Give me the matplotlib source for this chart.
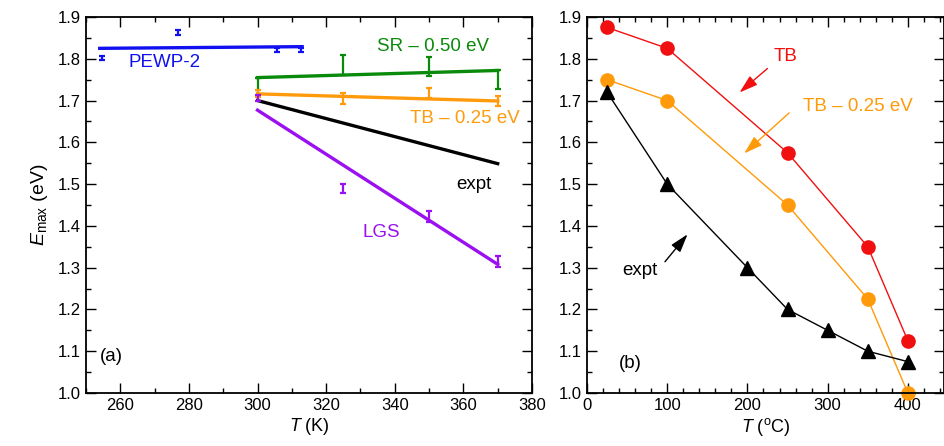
import matplotlib.pyplot as plt
from matplotlib.ticker import MultipleLocator

plt.rcParams['font.family'] = ['Liberation Sans', 'DejaVu Sans']
plt.rcParams['mathtext.fontset'] = 'custom'
plt.rcParams['mathtext.rm'] = 'Liberation Sans'
plt.rcParams['mathtext.it'] = 'Liberation Sans:italic'

# panel (a): fitted lines (T in K)
pewp_line_t = [254, 313]
pewp_line_e = [1.825, 1.829]
sr_line_t = [300, 370]
sr_line_e = [1.755, 1.772]
tb25_line_t = [300, 370]
tb25_line_e = [1.716, 1.699]
expt_line_t = [300, 370]
expt_line_e = [1.700, 1.549]
lgs_line_t = [300, 370]
lgs_line_e = [1.677, 1.308]

# panel (a): error bars (low, high)
pewp_t = [254.7, 276.7, 305.7, 312.7]
pewp_lo = [1.797, 1.858, 1.816, 1.816]
pewp_hi = [1.806, 1.868, 1.826, 1.826]
sr_t = [300, 325, 350, 370]
sr_lo = [1.710, 1.762, 1.758, 1.727]
sr_hi = [1.755, 1.808, 1.805, 1.772]
tb25_t = [300, 325, 350, 370]
tb25_lo = [1.709, 1.691, 1.707, 1.686]
tb25_hi = [1.725, 1.717, 1.729, 1.711]
lgs_t = [300, 325, 350, 370]
lgs_lo = [1.700, 1.479, 1.409, 1.301]
lgs_hi = [1.714, 1.501, 1.435, 1.329]

# panel (b): T in oC
tb_t = [25, 100, 250, 350, 400]
tb_e = [1.875, 1.825, 1.575, 1.35, 1.125]
tb25b_t = [25, 100, 250, 350, 400]
tb25b_e = [1.75, 1.70, 1.45, 1.225, 1.0]
exptb_t = [25, 100, 200, 250, 300, 350, 400]
exptb_e = [1.72, 1.50, 1.30, 1.20, 1.15, 1.10, 1.075]

blue = '#1010f0'
green = '#0a8a0a'
orange = '#ff9a0a'
purple = '#9a10f0'
red = '#f01010'

fig = plt.figure(figsize=(9.44, 4.46), dpi=100)
ax1 = fig.add_axes([86 / 944, 1 - 393 / 446, 446 / 944, 376 / 446])
ax2 = fig.add_axes([587 / 944, 1 - 393 / 446, 357 / 944, 376 / 446])


def errbars(ax, t, lo, hi, color, lw=1.6, cap=2.3):
    mid = [(a + b) / 2 for a, b in zip(lo, hi)]
    err = [[m - a for m, a in zip(mid, lo)], [b - m for m, b in zip(mid, hi)]]
    ax.errorbar(t, mid, yerr=err, fmt='none', ecolor=color, elinewidth=lw,
                capsize=cap, capthick=lw)


ax1.plot(pewp_line_t, pewp_line_e, color=blue, lw=2.4)
ax1.plot(sr_line_t, sr_line_e, color=green, lw=2.4)
ax1.plot(tb25_line_t, tb25_line_e, color=orange, lw=2.4)
ax1.plot(expt_line_t, expt_line_e, color='black', lw=2.4)
ax1.plot(lgs_line_t, lgs_line_e, color=purple, lw=2.4)
errbars(ax1, pewp_t, pewp_lo, pewp_hi, blue)
errbars(ax1, sr_t, sr_lo, sr_hi, green)
errbars(ax1, tb25_t, tb25_lo, tb25_hi, orange)
errbars(ax1, lgs_t, lgs_lo, lgs_hi, purple)

fs = 13.5
ax1.text(273, 1.792, 'PEWP-2', color=blue, fontsize=fs, ha='center', va='center')
ax1.text(351, 1.830, 'SR \u2013 0.50 eV', color=green, fontsize=fs, ha='center', va='center')
ax1.text(360.5, 1.658, 'TB \u2013 0.25 eV', color=orange, fontsize=fs, ha='center', va='center')
ax1.text(363, 1.500, 'expt', color='black', fontsize=fs, ha='center', va='center')
ax1.text(336, 1.384, 'LGS', color=purple, fontsize=fs, ha='center', va='center')
ax1.text(257.5, 1.087, '(a)', fontsize=fs, ha='center', va='center')

ax1.set_xlim(250, 380)
ax1.set_ylim(1.0, 1.9)
ax1.xaxis.set_major_locator(MultipleLocator(20))
ax1.xaxis.set_minor_locator(MultipleLocator(10))
ax1.set_xlabel(r'$T$ (K)', fontsize=13, labelpad=2)
ax1.set_ylabel(r'$E_{\mathrm{max}}$ (eV)', fontsize=14, labelpad=6)

ax2.plot(tb_t, tb_e, color=red, lw=1, marker='o', ms=9.5, clip_on=False)
ax2.plot(tb25b_t, tb25b_e, color=orange, lw=1, marker='o', ms=9.5, clip_on=False)
ax2.plot(exptb_t, exptb_e, color='black', lw=1, marker='^', ms=10.5, clip_on=False)

arrow = dict(arrowstyle='-|>,head_length=0.8,head_width=0.25', lw=1, mutation_scale=14)
ax2.text(247.5, 1.805, 'TB', color=red, fontsize=fs, ha='center', va='center')
ax2.annotate('', xy=(187.5, 1.715), xytext=(227.5, 1.781),
             arrowprops=dict(arrow, color=red))
ax2.text(337.5, 1.685, 'TB \u2013 0.25 eV', color=orange, fontsize=fs, ha='center', va='center')
ax2.annotate('', xy=(193.4, 1.569), xytext=(254.6, 1.675),
             arrowprops=dict(arrow, color=orange))
ax2.text(66, 1.293, 'expt', color='black', fontsize=fs, ha='center', va='center')
ax2.annotate('', xy=(127.5, 1.385), xytext=(95, 1.309),
             arrowprops=dict(arrow, color='black'))
ax2.text(54, 1.07, '(b)', fontsize=fs, ha='center', va='center')

ax2.set_xlim(0, 445)
ax2.set_ylim(1.0, 1.9)
ax2.xaxis.set_major_locator(MultipleLocator(100))
ax2.xaxis.set_minor_locator(MultipleLocator(20))
ax2.set_xlabel(r'$T$ ($^{\mathrm{o}}$C)', fontsize=13, labelpad=2)

for ax in (ax1, ax2):
    ax.yaxis.set_major_locator(MultipleLocator(0.1))
    ax.yaxis.set_minor_locator(MultipleLocator(0.05))
    ax.yaxis.set_major_formatter(plt.FuncFormatter(lambda v, p: f'{v:.1f}'))
    ax.tick_params(which='both', direction='in', top=True, right=True, labelsize=12, width=1)
    ax.tick_params(which='major', length=7)
    ax.tick_params(which='minor', length=3.5)
    for s in ax.spines.values():
        s.set_linewidth(1.3)

fig.savefig('out.png', dpi=100)
